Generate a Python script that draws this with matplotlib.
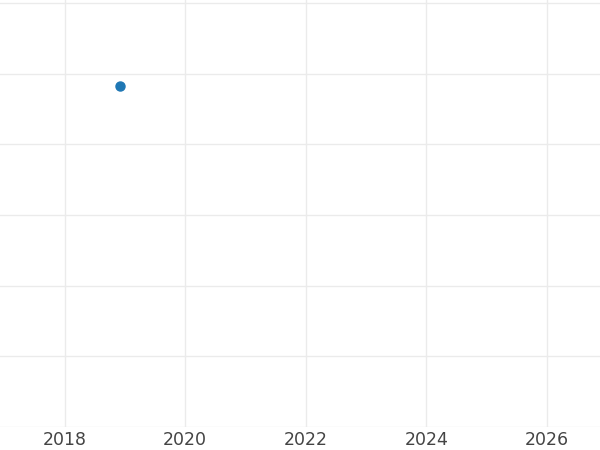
import matplotlib
matplotlib.use("Agg")
import matplotlib.pyplot as plt

# data: a single observation
years = [2018.925]
values = [4.83]

xticks = [2018, 2020, 2022, 2024, 2026]
yticks = [0, 1, 2, 3, 4, 5, 6]

fig = plt.figure(figsize=(6, 4.5), dpi=100)
ax = fig.add_axes([0, 1 - 427 / 450, 1, 427 / 450])

ax.plot(years, values, 'o', color='#1f77b4', markersize=6.5, zorder=3)

ax.set_xlim(2016.93, 2026.88)
ax.set_ylim(0, 6.04)
ax.set_xticks(xticks)
ax.set_xticklabels([str(t) for t in xticks])
ax.set_yticks(yticks)
ax.set_yticklabels([])

ax.grid(True, color='#ebebeb', linewidth=1)
ax.set_axisbelow(True)
ax.tick_params(axis='both', length=0)
ax.tick_params(axis='x', labelsize=12.5, labelcolor='#444444', pad=3)
for s in ax.spines.values():
    s.set_visible(False)

fig.savefig('out.png', dpi=100)
